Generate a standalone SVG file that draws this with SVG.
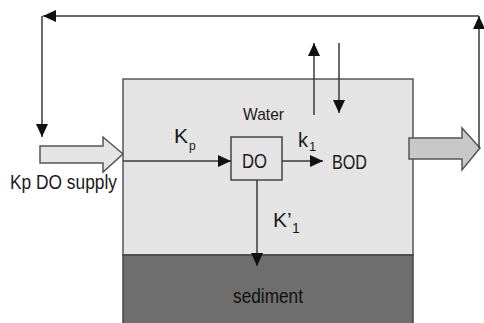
<svg xmlns="http://www.w3.org/2000/svg" width="484" height="323" viewBox="0 0 484 323">
<style>
.t{font-family:"Liberation Sans",Arial,sans-serif;fill:#1a1a1a}
.ln{stroke:#3a3a3a;stroke-width:1.5;fill:none}
</style>
<defs>
<marker id="ah" markerUnits="userSpaceOnUse" markerWidth="14" markerHeight="12" viewBox="0 0 14 12" refX="13" refY="6" orient="auto">
<path d="M0,0 L13,6 L0,12 Z" fill="#111"/>
</marker>
</defs>
<rect width="484" height="323" fill="#fff"/>
<g id="water">
<rect x="123" y="79" width="290" height="176" fill="#e4e4e4" stroke="#555" stroke-width="1.5"/>
<text class="t" x="243" y="120" font-size="17" textLength="41" lengthAdjust="spacingAndGlyphs">Water</text>
</g>
<g id="sediment">
<rect x="123" y="255" width="290" height="72" fill="#6e6e6e" stroke="#444" stroke-width="1.5"/>
<text class="t" x="233" y="303" font-size="20" textLength="70" lengthAdjust="spacingAndGlyphs" style="fill:#111">sediment</text>
</g>
<g id="input">
<polygon points="40,146 103,146 103,137 123,154 103,172 103,163 40,163" fill="#e4e4e4" stroke="#555" stroke-width="1.5"/>
<text class="t" x="10" y="189" font-size="20" textLength="107" lengthAdjust="spacingAndGlyphs">Kp DO supply</text>
</g>
<g id="output">
<polygon points="409,138 462,138 462,128 480,148 462,170 462,159 409,159" fill="#c8c8c8" stroke="#555" stroke-width="1.5"/>
</g>
<g id="do">
<rect x="231" y="137" width="51" height="43" fill="#e4e4e4" stroke="#444" stroke-width="1.5"/>
<text class="t" x="242" y="168" font-size="21" textLength="25" lengthAdjust="spacingAndGlyphs">DO</text>
</g>
<g id="bod">
<text class="t" x="332" y="169" font-size="21" textLength="35" lengthAdjust="spacingAndGlyphs">BOD</text>
</g>
<g id="connectors">
<line class="ln" x1="479" y1="148" x2="479" y2="16" marker-end="url(#ah)"/>
<line class="ln" x1="479" y1="16" x2="43" y2="16" marker-end="url(#ah)"/>
<line class="ln" x1="42" y1="16" x2="42" y2="137" marker-end="url(#ah)"/>
<line class="ln" x1="123" y1="161" x2="231" y2="161" marker-end="url(#ah)"/>
<line class="ln" x1="282" y1="161" x2="323" y2="161" marker-end="url(#ah)"/>
<line class="ln" x1="257" y1="180" x2="257" y2="266" marker-end="url(#ah)"/>
<line class="ln" x1="314" y1="115" x2="314" y2="43" marker-end="url(#ah)"/>
<line class="ln" x1="339" y1="43" x2="339" y2="113" marker-end="url(#ah)"/>
<text class="t" font-size="21"><tspan x="174" y="143">K</tspan><tspan x="189" y="150" font-size="12">p</tspan></text>
<text class="t" font-size="20"><tspan x="298" y="147">k</tspan><tspan x="309" y="151" font-size="13">1</tspan></text>
<text class="t" font-size="21"><tspan x="273" y="227">K’</tspan><tspan x="292" y="233" font-size="14">1</tspan></text>
</g>
</svg>
